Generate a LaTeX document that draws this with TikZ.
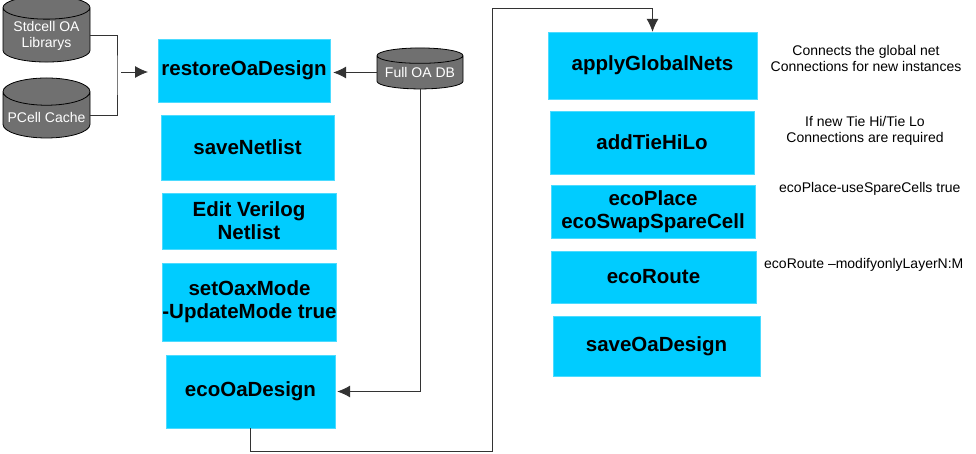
\documentclass[tikz,border=0pt]{standalone}
\usepackage{fontspec}
\setmainfont{Liberation Sans}
\usetikzlibrary{shapes.geometric,arrows.meta}
\definecolor{boxc}{RGB}{0,204,255}
\definecolor{dbc}{RGB}{112,112,112}
\begin{document}
\begin{tikzpicture}[x=1pt,y=-1pt,
  stepbox/.style={fill=boxc,draw=boxc!70!white,inner sep=0pt,align=center,
    font=\fontsize{20.5}{23}\selectfont\bfseries},
  db/.style={cylinder,shape border rotate=90,aspect=0.35,fill=dbc,draw=black,
    line width=0.8pt,text=white,align=center,inner sep=0pt,
    font=\fontsize{14}{16}\selectfont},
  note/.style={font=\fontsize{14}{16}\selectfont,align=center,inner sep=0pt},
  conn/.style={line width=0.8pt,draw=black!80},
  arr/.style={conn,-{Latex[length=13pt,width=12pt]}}]
\useasboundingbox (0,0) rectangle (976,454);
% left column
\node[stepbox,minimum width=172,minimum height=63] (restore) at (244,70.5) {restoreOaDesign};
\node[stepbox,minimum width=173,minimum height=65] (savenl) at (247.5,147.5) {saveNetlist};
\node[stepbox,minimum width=174,minimum height=56] (editv) at (249,221) {Edit Verilog\\Netlist};
\node[stepbox,minimum width=173,minimum height=78] (setoax) at (249.5,302) {setOaxMode\\-UpdateMode true};
\node[stepbox,minimum width=169,minimum height=73] (ecooa) at (250.5,391.5) {ecoOaDesign};
% right column
\node[stepbox,minimum width=209,minimum height=67] (agn) at (652.5,65.5) {applyGlobalNets};
\node[stepbox,minimum width=204,minimum height=63] (tie) at (652,142.5) {addTieHiLo};
\node[stepbox,minimum width=204,minimum height=53] (place) at (653,211.5) {ecoPlace\\ecoSwapSpareCell};
\node[stepbox,minimum width=205,minimum height=52] (route) at (653.5,277) {ecoRoute};
\node[stepbox,minimum width=207,minimum height=60] (saveoa) at (656.5,346) {saveOaDesign};
% databases
\node[db,minimum width=87,minimum height=64] (std) at (46.5,35) {\\[-4pt]Stdcell OA\\Librarys};
\node[db,minimum width=87,minimum height=60] (pc) at (46.5,115) {\\PCell Cache};
\node[db,minimum width=86,minimum height=41,aspect=0.22] (fdb) at (420,72.5) {Full OA DB};
% notes
\node[note] (n1) at (866,58) {Connects the global net\\Connections for new instances};
\node[note] (n2) at (865,130.5) {If new Tie Hi/Tie Lo\\Connections are required};
\node[note,anchor=west] (n3) at (779,189) {ecoPlace-useSpareCells true};
\node[note,anchor=west] (n4) at (764,265) {ecoRoute –modifyonlyLayerN:M};
% connectors
\coordinate (j) at (117,75);
\draw[conn] (std.east) -| (j) |- (pc.east);
\coordinate (a0) at (121,72);
\coordinate (a1) at (148,72);
\draw[arr] (a0) -- (a1);
\draw[arr,shorten >=3pt] (fdb.west) -- (restore.east |- fdb.west);
\draw[arr,shorten >=2pt] (fdb.south) |- (ecooa.east);
\coordinate (c1) at (492,451);
\coordinate (c2) at (492,8);
\draw[arr] (ecooa.south) |- (c1) -- (c2) -| (agn.north);
\end{tikzpicture}
\end{document}
